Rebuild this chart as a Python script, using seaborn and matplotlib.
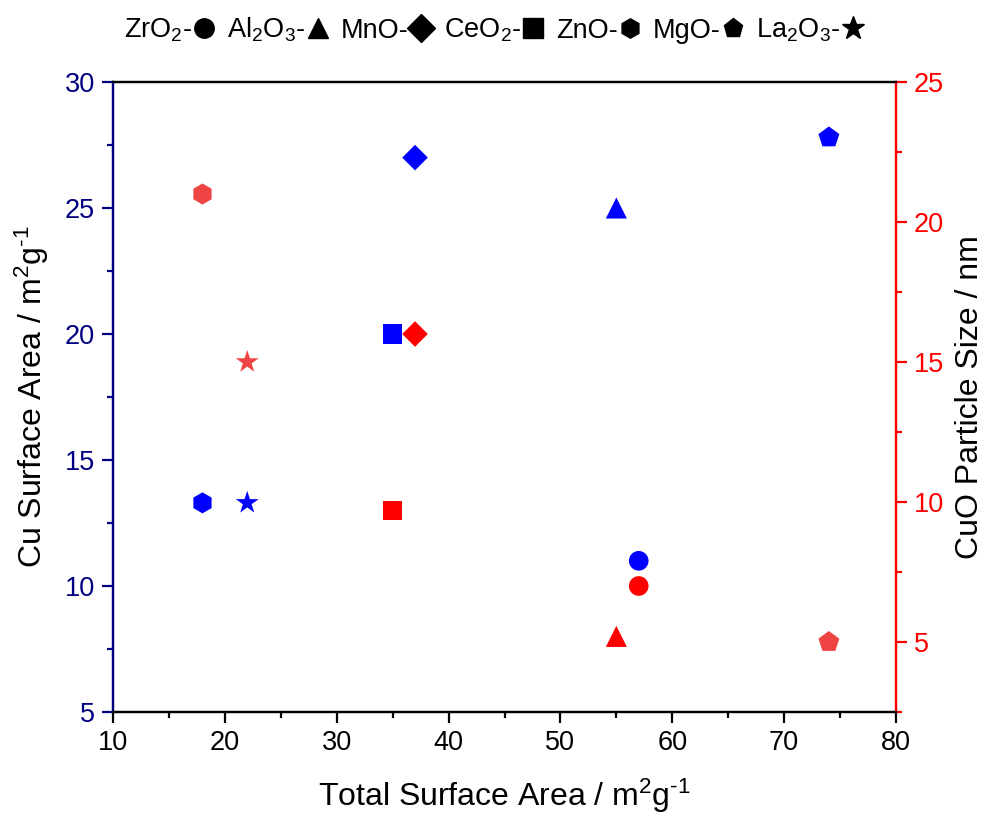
import matplotlib
matplotlib.use("Agg")
import matplotlib.pyplot as plt
import seaborn as sns
import pandas as pd
from matplotlib.lines import Line2D
from matplotlib.ticker import MultipleLocator

sns.set_theme(style="white")
plt.rcParams['font.family'] = ['Liberation Sans', 'DejaVu Sans']
plt.rcParams['mathtext.fontset'] = 'custom'
plt.rcParams['mathtext.rm'] = 'Liberation Sans'
plt.rcParams['mathtext.it'] = 'Liberation Sans'
plt.rcParams['text.color'] = 'black'

oxides = ["ZrO2", "Al2O3", "MnO", "CeO2", "ZnO", "MgO", "La2O3"]
oxide_labels = ["ZrO$_2$-", "Al$_2$O$_3$-", "MnO-", "CeO$_2$-", "ZnO-", "MgO-", "La$_2$O$_3$-"]
total_sa = [57, 55, 37, 35, 18, 74, 22]
cu_sa = [11.0, 25.0, 27.0, 20.0, 13.3, 27.8, 13.3]
cuo_size = [7.0, 5.2, 16.0, 9.7, 21.0, 5.0, 15.0]
red_colors = ["#FF0000", "#FF0000", "#FF0000", "#FF0000", "#EE4444", "#EE4444", "#EE4444"]
markers = {"ZrO2": "o", "Al2O3": "^", "MnO": "D", "CeO2": "s", "ZnO": "h", "MgO": "p", "La2O3": "*"}
sizes = {"ZrO2": 200, "Al2O3": 230, "MnO": 170, "CeO2": 190, "ZnO": 230, "MgO": 250, "La2O3": 300}

df = pd.DataFrame({"oxide": oxides, "total": total_sa, "cu": cu_sa, "cuo": cuo_size, "rc": red_colors})

fig = plt.figure(figsize=(9.89, 8.14), dpi=100)
ax = fig.add_axes([113/989, 1-712/814, (896-113)/989, (712-82)/814])
ax2 = ax.twinx()

for _, r in df.iterrows():
    sub = df[df.oxide == r.oxide]
    sns.scatterplot(data=sub, x="total", y="cu", marker=markers[r.oxide], s=sizes[r.oxide],
                    color="#0000FF", edgecolor="none", ax=ax, legend=False)
    sns.scatterplot(data=sub, x="total", y="cuo", marker=markers[r.oxide], s=sizes[r.oxide],
                    color=r.rc, edgecolor="none", ax=ax2, legend=False)

ax.set_xlim(10, 80)
ax.set_ylim(5, 30)
ax2.set_ylim(2.5, 25)
ax.xaxis.set_major_locator(MultipleLocator(10))
ax.xaxis.set_minor_locator(MultipleLocator(5))
ax.yaxis.set_major_locator(MultipleLocator(5))
ax.yaxis.set_minor_locator(MultipleLocator(2.5))
ax2.yaxis.set_major_locator(MultipleLocator(5))
ax2.yaxis.set_minor_locator(MultipleLocator(2.5))

navy = "#000080"
for a in (ax, ax2):
    for s in a.spines.values():
        s.set_linewidth(1.6)
        s.set_color("black")
ax.spines["left"].set_color(navy)
ax2.spines["left"].set_color(navy)
ax2.spines["right"].set_color("#FF0000")
ax.spines["right"].set_color("#FF0000")

ax.tick_params(axis="x", which="major", direction="out", length=8, width=1.6, colors="black", labelsize=19.5, pad=5, bottom=True)
ax.tick_params(axis="x", which="minor", direction="out", length=4, width=1.6, colors="black", bottom=True)
ax.tick_params(axis="y", which="major", direction="out", length=8, width=1.6, colors=navy, labelsize=19.5, pad=5, left=True)
ax.tick_params(axis="y", which="minor", direction="out", length=4, width=1.6, colors=navy, left=True)
ax2.tick_params(axis="y", which="major", direction="out", length=8, width=1.6, colors="#FF0000", labelsize=19.5, pad=5, right=True)
ax2.tick_params(axis="y", which="minor", direction="out", length=4, width=1.6, colors="#FF0000", right=True)

ax.set_xlabel(r"Total Surface Area / m$^2$g$^{\text{-1}}$", fontsize=23, color="black", labelpad=15)
ax.set_ylabel(r"Cu Surface Area / m$^2$g$^{\text{-1}}$", fontsize=23, color="black", labelpad=10)
ax2.set_ylabel("CuO Particle Size / nm", fontsize=23, color="black", labelpad=8)
ax.grid(False)
ax2.grid(False)

handles = [Line2D([], [], linestyle="none", marker=markers[o], color="black",
                  markersize=(14 if markers[o] != "*" else 17)) for o in oxides]
fig.legend(handles, oxide_labels, loc="center", bbox_to_anchor=(0.5, 1-30/814), ncol=7,
           frameon=False, markerfirst=False, fontsize=19.5, handletextpad=0.0,
           columnspacing=0.4, handlelength=0.9, labelcolor="black")

fig.savefig("out.png", dpi=100)
